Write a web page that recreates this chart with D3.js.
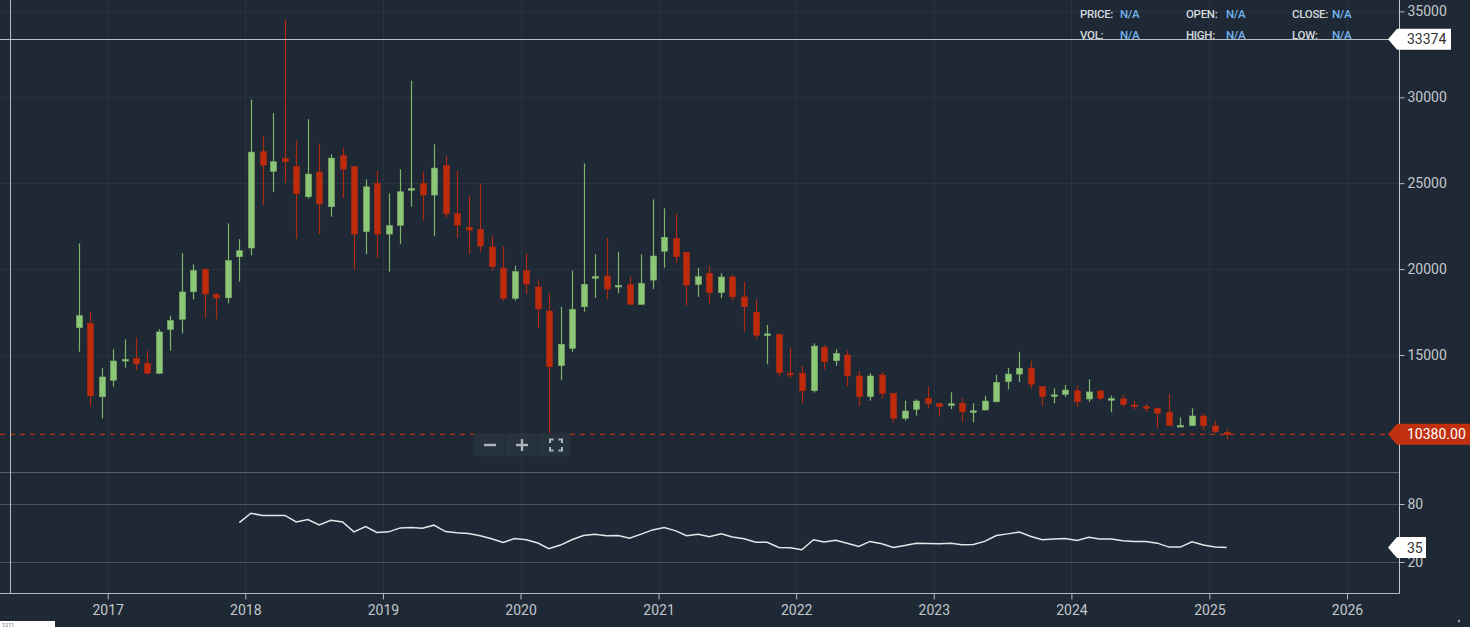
<!DOCTYPE html>
<html><head><meta charset="utf-8">
<script src="https://cdn.jsdelivr.net/npm/d3@7"></script>
<style>html,body{margin:0;padding:0;background:#1e2935;overflow:hidden}text{font-family:Roboto,"Noto Sans",sans-serif}</style>
</head><body><svg id="c" width="1470" height="627"></svg>
<script>
// ---- data (monthly candles, Oct 2016 .. Feb 2025) ----
const firstMonth = "2016-10";
const opens = [16590,16840,12570,13530,14680,14810,14520,13940,16490,17080,
 18680,19990,18530,18330,20720,21230,26830,25690,26440,25960,
 24210,25650,23630,26600,25960,22180,24990,22040,22550,24590,
 24990,24310,26040,23240,22430,22310,21290,20050,18300,19910,
 18960,17560,14380,15390,17810,19490,19600,18990,19090,17950,
 19360,21040,21790,20980,19110,19760,18630,19540,18380,17490,
 16170,16210,13940,13940,12920,15450,14670,15000,13780,12580,
 13840,12770,11320,11840,12480,12190,12100,12190,11700,11800,
 12280,13450,13890,14230,13160,12630,12710,12920,12440,12910,
 12420,12440,12090,11990,11900,11670,10850,10890,11450,10870,10500];
const highs = [21500,17520,14230,15330,15910,16030,15230,16500,17290,20920,
 20280,20060,18610,22660,21740,29880,27760,29080,34530,27470,
 28730,27320,26680,27060,25990,25220,25720,24410,25810,30960,
 25670,27260,26600,25720,24270,24990,21930,21310,20200,20920,
 19410,18590,17810,19910,26150,20860,21800,21010,19560,20860,
 24060,23540,23250,21000,20080,20200,19760,19700,19270,18240,
 16750,16230,15450,14360,15680,15580,15330,15250,14070,13940,
 14000,12800,12340,12420,13160,12220,12830,12480,12190,12630,
 13850,14240,15190,14650,13190,13060,13260,13220,13590,12950,
 12630,12670,12340,12150,11960,12710,11370,11900,11610,11160,10690];
const lows = [15190,11990,11310,13160,14260,14110,13880,13880,15250,16260,
 18240,17140,17080,18010,19270,20800,23730,24500,25020,21750,
 24100,22040,23050,24150,19950,20880,20630,19850,21460,23630,
 22810,21940,23010,21830,20880,21010,19910,18160,18160,18550,
 16550,10440,13550,15190,17520,18330,18260,18590,17930,17910,
 18840,20080,20370,17890,18390,18010,18300,18160,16360,15930,
 14460,13740,13650,12190,12810,14170,14380,13160,12050,12340,
 12480,11080,11180,11470,11900,11410,11840,11080,11080,11770,
 12250,13000,13430,13060,12050,12190,12560,11990,12270,12340,
 11670,11990,11840,11700,10730,10870,10840,10870,10640,10440,10080];
const closes = [17290,12630,13720,14650,14740,14480,13940,16340,17000,18670,
 19910,18550,18320,20490,21070,26810,26050,26250,26250,24390,
 25530,23790,26460,25820,22040,24790,22040,22530,24500,24690,
 24310,25880,23220,22560,22270,21340,20140,18300,19850,19130,
 17680,14320,15620,17660,19110,19560,18840,19050,17950,19170,
 20760,21850,20720,19070,19560,18630,19540,18390,17810,16150,
 16230,13970,13840,12920,15520,14610,15080,13800,12580,13780,
 12770,11320,11740,12320,12190,11990,12160,11700,11750,12320,
 13410,13890,14230,13300,12580,12680,12960,12280,12850,12480,
 12460,12130,11990,11920,11610,10890,10900,11450,10890,10540,10380];
// indicator (oscillator) starts at candle index 14 (Dec 2017)
const rsiStart = 14;
const rsi = [60.8,70.4,68.0,68.2,68.2,61.5,63.9,58.4,63.2,61.5,
 51.2,56.7,50.5,51.2,55.3,55.6,55.0,58.1,51.5,50.2,
 49.4,47.1,44.0,40.2,44.3,43.0,39.6,33.7,37.5,43.0,
 47.4,48.8,47.1,47.4,44.7,48.8,53.2,55.6,52.2,47.1,
 48.8,46.2,49.3,45.9,44.0,40.4,40.4,35.0,34.7,32.7,
 43.0,40.6,42.6,39.5,36.1,41.3,38.9,35.1,37.1,39.5,
 39.2,38.9,39.5,37.8,38.2,41.3,47.4,49.1,50.9,46.4,
 43.0,43.7,44.3,42.3,45.7,43.7,43.7,41.9,41.3,41.3,
 39.5,35.4,35.4,40.9,37.5,35.4,35.1];
const yearTicks = [2017,2018,2019,2020,2021,2022,2023,2024,2025,2026];
const priceTicks = [15000,20000,25000,30000,35000];
const oscTicks = [20,80];
const lastPrice = 10380;
const crossPrice = 33374;
const lastOsc = 35;
const infoRows = [["PRICE:","N/A","OPEN:","N/A","CLOSE:","N/A"],["VOL:","N/A","HIGH:","N/A","LOW:","N/A"]];

// ---- build ----
const W=1470,H=627, R=1399.5, AX=593.5;
const BG="#1e2935", GRID="#27333f", GREEN="#8cc677", RED="#bf2a0c";
const svg=d3.select("#c");
svg.append("rect").attr("width",W).attr("height",H).attr("fill",BG);

const parse=d3.timeParse("%Y-%m");
const m0=parse(firstMonth);
const dates=opens.map((_,i)=>{const d=d3.timeMonth.offset(m0,i); return d3.timeDay.offset(d,15);});
const candles=opens.map((o,i)=>({date:dates[i],o,h:highs[i],l:lows[i],c:closes[i]}));

const x=d3.scaleTime().domain([new Date(2017,0,1),new Date(2026,0,1)]).range([107.7,1347]);
const y=d3.scaleLinear().domain([15000,30000]).range([355,97.3]);
const yo=d3.scaleLinear().domain([20,80]).range([562,504]);

// grid
const g=svg.append("g");
g.selectAll(".vg").data(yearTicks).join("line")
 .attr("x1",d=>Math.round(x(new Date(d,0,1)))+0.5).attr("x2",d=>Math.round(x(new Date(d,0,1)))+0.5)
 .attr("y1",0).attr("y2",AX).attr("stroke",GRID).attr("stroke-width",1);
g.selectAll(".hg").data(priceTicks).join("line")
 .attr("x1",0).attr("x2",R).attr("y1",d=>Math.round(y(d))+0.5).attr("y2",d=>Math.round(y(d))+0.5)
 .attr("stroke",GRID).attr("stroke-width",1);
// panel separators
g.append("line").attr("x1",0).attr("x2",R).attr("y1",472.5).attr("y2",472.5).attr("stroke","#56616b");
g.selectAll(".og").data(oscTicks).join("line")
 .attr("x1",0).attr("x2",R).attr("y1",d=>Math.round(yo(d))+0.5).attr("y2",d=>Math.round(yo(d))+0.5)
 .attr("stroke","#46525d");

// dashed last price line
g.append("line").attr("x1",0).attr("x2",1390).attr("y1",y(lastPrice)).attr("y2",y(lastPrice))
 .attr("stroke","#c0300f").attr("stroke-width",1.3).attr("stroke-dasharray","5,5");

// candles
const cg=svg.append("g");
const bw=6;
cg.selectAll(".wick").data(candles).join("line")
 .attr("x1",d=>Math.round(x(d.date))+0.5).attr("x2",d=>Math.round(x(d.date))+0.5)
 .attr("y1",d=>y(d.h)).attr("y2",d=>y(d.l))
 .attr("stroke",d=>d.c>=d.o?"#7fb26b":"#ad2a10").attr("stroke-width",1.2);
cg.selectAll(".body").data(candles).join("rect")
 .attr("x",d=>Math.round(x(d.date))+0.5-bw/2).attr("width",bw)
 .attr("y",d=>y(Math.max(d.o,d.c))).attr("height",d=>Math.max(1.6,Math.abs(y(d.o)-y(d.c))))
 .attr("fill",d=>d.c>=d.o?GREEN:RED).attr("stroke",d=>d.c>=d.o?"#7fb26b":"#ad2a10").attr("stroke-width",0.6);

// oscillator line
const osc=rsi.map((v,i)=>({date:dates[rsiStart+i],v}));
svg.append("path").datum(osc)
 .attr("d",d3.line().x(d=>x(d.date)).y(d=>yo(d.v)))
 .attr("fill","none").attr("stroke","#e4e6e8").attr("stroke-width",1.5);

// crosshair
svg.append("line").attr("x1",0).attr("x2",R).attr("y1",Math.round(y(crossPrice))+0.5).attr("y2",Math.round(y(crossPrice))+0.5)
 .attr("stroke","#b9bfc5").attr("stroke-width",1);
svg.append("line").attr("x1",10.5).attr("x2",10.5).attr("y1",0).attr("y2",AX)
 .attr("stroke","#b9bfc5").attr("stroke-width",1);

// axes
const ax=svg.append("g");
ax.append("line").attr("x1",R).attr("x2",R).attr("y1",0).attr("y2",AX).attr("stroke","#c5c9cd");
ax.append("line").attr("x1",0).attr("x2",R).attr("y1",AX).attr("y2",AX).attr("stroke","#b5babf");
const rightAxis=d3.axisRight(y).tickValues(priceTicks).tickSize(5).tickPadding(3).tickFormat(d3.format("d"));
const ra=ax.append("g").attr("transform",`translate(${R},0)`).call(rightAxis);
const oAxis=d3.axisRight(yo).tickValues(oscTicks).tickSize(5).tickPadding(3);
const oa=ax.append("g").attr("transform",`translate(${R},0)`).call(oAxis);
const bAxis=d3.axisBottom(x).tickValues(yearTicks.map(t=>new Date(t,0,1))).tickSize(6).tickPadding(6).tickFormat(d3.timeFormat("%Y"));
const ba=ax.append("g").attr("transform",`translate(0,${AX})`).call(bAxis);
[ra,oa,ba].forEach(a=>{
  a.select(".domain").remove();
  a.selectAll("line").attr("stroke","#b5babf");
  a.selectAll("text").attr("fill","#c3c7cb").style("font-size","14px").style("font-family","Roboto, sans-serif");
});

// value labels on right axis
function flag(yc,txt,fill,tcol,right){
  const top=yc-10.5,bot=yc+10.5,left=1397;
  svg.append("path").attr("d",`M1388,${yc} L${left},${top} L${right},${top} L${right},${bot} L${left},${bot} Z`)
   .attr("fill",fill);
  svg.append("text").attr("x",1407).attr("y",yc).attr("dy","0.36em").attr("fill",tcol)
   .style("font-size","14px").text(txt);
}
flag(y(crossPrice),String(crossPrice),"#ffffff","#333",1451);
flag(y(lastPrice),d3.format(".2f")(lastPrice),"#c0300f","#ffffff",1472);
flag(yo(lastOsc),String(lastOsc),"#ffffff","#333",1426);

// info panel
const colX=[1080,1120,1186,1226,1292,1332];
infoRows.forEach((row,ri)=>{
  row.forEach((t,ci)=>{
    svg.append("text").attr("x",colX[ci]).attr("y",18+ri*21)
     .attr("fill",ci%2?"#74b4ee":"#d5dade")
     .style("font-size","11.5px").style("font-weight","500").style("letter-spacing","-0.3px")
     .text(t);
  });
});

// zoom control
const zc=svg.append("g");
zc.append("rect").attr("x",473.5).attr("y",433.5).attr("width",97).attr("height",23).attr("rx",2).attr("fill","#26323e");
[505,538].forEach(v=>zc.append("line").attr("x1",v).attr("x2",v).attr("y1",434).attr("y2",456).attr("stroke","#1f2a35"));
zc.append("line").attr("x1",484).attr("x2",496).attr("y1",445).attr("y2",445).attr("stroke","#aeb5bc").attr("stroke-width",2.4);
zc.append("line").attr("x1",516).attr("x2",528).attr("y1",445).attr("y2",445).attr("stroke","#aeb5bc").attr("stroke-width",2.4);
zc.append("line").attr("x1",522).attr("x2",522).attr("y1",439).attr("y2",451).attr("stroke","#aeb5bc").attr("stroke-width",2.4);
zc.append("path").attr("d","M550,443 V439.5 H553.5 M558.5,439.5 H562 V443 M562,447 V450.5 H558.5 M553.5,450.5 H550 V447")
 .attr("fill","none").attr("stroke","#aeb5bc").attr("stroke-width",2);

// bottom-left badge and corner mark
svg.append("rect").attr("x",0).attr("y",621).attr("width",55).attr("height",6).attr("fill","#ffffff");
svg.append("text").attr("x",2).attr("y",626.5).attr("fill","#666").style("font-size","5.5px").text("1211");
svg.append("circle").attr("cx",1459).attr("cy",621).attr("r",1.2).attr("fill","#9aa2aa");
</script></body></html>
